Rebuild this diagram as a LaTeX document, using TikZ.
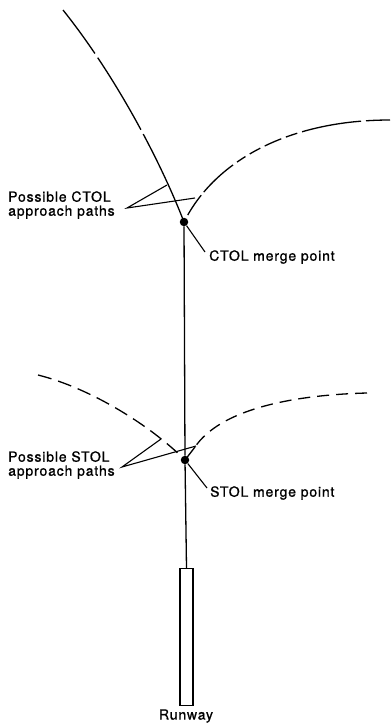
\documentclass[tikz,border=0pt]{standalone}
\usepackage{fontspec}
\setmainfont[LetterSpace=6,FakeBold=1]{TeX Gyre Heros}
\begin{document}
\begin{tikzpicture}[x=1pt,y=-1pt,
  path/.style={line width=1.3pt},
  leader/.style={line width=1.1pt},
  lbl/.style={font=\fontsize{14}{14}\selectfont, inner sep=0pt, align=left},
  dot/.style={circle, fill=black, inner sep=0pt, minimum size=8.5pt}]
\useasboundingbox (0,0) rectangle (391,724);
% merge points
\node[dot] (ctolm) at (184,222) {};
\node[dot] (stolm) at (185,460) {};
% runway
\node[draw, line width=1.3pt, minimum width=13pt, minimum height=137pt, inner sep=0pt, anchor=north] (runway) at (186.5,568) {};
\node[lbl, anchor=center] (runwayl) at (186,716) {Runway};
% centreline
\draw[path] (ctolm) -- (stolm) -- (runway.north);
% CTOL approach paths
\draw[path, dash pattern=on 54pt off 5pt on 84pt off 5pt on 200pt off 1pt] (63,10) .. controls (115,75) and (160,160) .. (ctolm.center);
\draw[path, dash pattern=on 24pt off 5pt on 60pt off 5pt on 12pt off 5pt on 18pt off 5pt on 12pt off 5pt on 10pt off 5pt on 40pt off 4pt] (390,120) .. controls (290,120) and (215,160) .. (ctolm.center);
% STOL approach paths
\draw[path, dash pattern=on 14pt off 7pt] (38,375) .. controls (90,388) and (150,425) .. (stolm.center);
\draw[path, dash pattern=on 12pt off 7pt] (367,393) .. controls (290,395) and (220,410) .. (195,447) coordinate (stolr);
\draw[path] (stolr) -- (stolm.center);
% CTOL labels
\node[lbl, anchor=west] (ctoll) at (8,205) {Possible CTOL\\[0pt]approach paths};
\coordinate (ctolv) at (127,208);
\coordinate (ctolA) at (167,185);
\coordinate (ctolB) at (195,198);
\draw[leader] (ctolA) -- (ctolv) -- (ctolB);
\node[lbl, anchor=west] (ctolml) at (209,257) {CTOL merge point};
\coordinate (ctolmt) at (205,252);
\draw[leader] (ctolm) -- (ctolmt);
% STOL labels
\node[lbl, anchor=west] (stoll) at (8,465) {Possible STOL\\[0pt]approach paths};
\coordinate (stolv) at (122,467);
\coordinate (stolA) at (161,439);
\coordinate (stolB) at (196,446);
\draw[leader] (stolA) -- (stolv) -- (stolB);
\node[lbl, anchor=west] (stolml) at (210,493) {STOL merge point};
\coordinate (stolmt) at (207,488);
\draw[leader] (stolm) -- (stolmt);
\end{tikzpicture}
\end{document}
